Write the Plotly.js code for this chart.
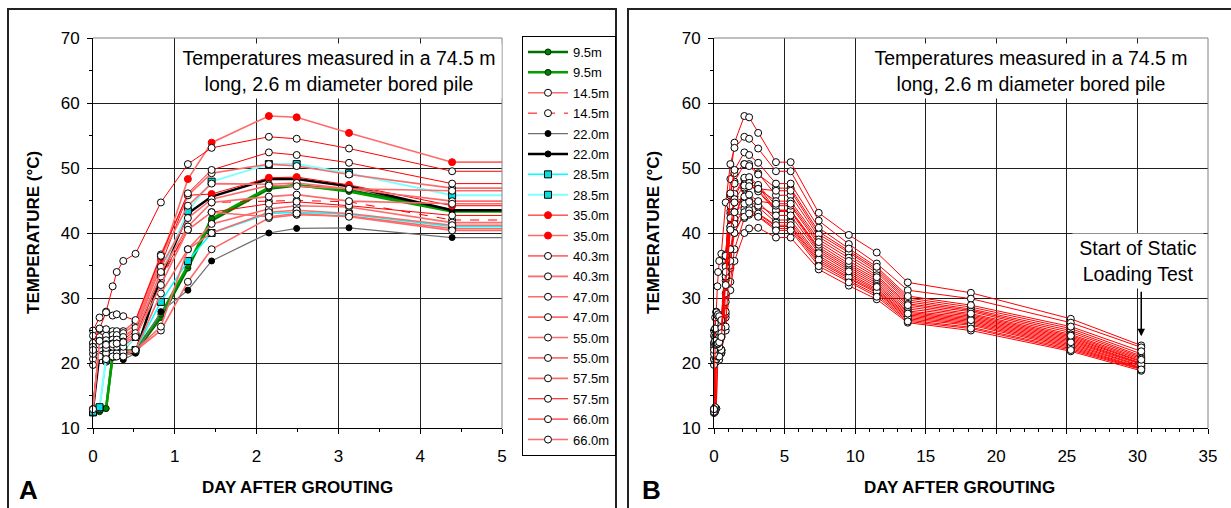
<!DOCTYPE html>
<html>
<head>
<meta charset="utf-8">
<script src="https://cdn.plot.ly/plotly-3.0.1.min.js"></script>
<style>html,body{margin:0;padding:0;background:#fff;}#chart{width:1231px;height:508px;}</style>
</head>
<body>
<div id="chart"></div>
<script>
// Time after grouting (days)
const days = [0, 0.08, 0.16, 0.24, 0.29, 0.37, 0.52, 0.83, 1.16, 1.45, 2.15, 2.49, 3.13, 4.39, 5.43, 7.42, 9.55, 11.53, 13.73, 18.2, 25.28, 30.27];

// Temperatures (deg C) for each gauge depth (two gauges per depth)
const t9_5a  = [12.3, 12.5, 13.0, 21.0, 21.5, 21.8, 21.7, 27.0, 34.6, 41.9, 46.8, 47.3, 46.6, 43.5, 43.5, 37.5, 34.7, 32.3, 28.0, 27.0, 23.6, 20.0];
const t9_5b  = [12.5, 12.7, 13.0, 21.2, 21.6, 21.9, 22.0, 27.5, 35.0, 42.2, 47.0, 47.4, 46.4, 43.3, 43.3, 37.2, 34.4, 32.0, 27.8, 26.8, 23.4, 19.9];
const t14_5a = [12.9, 22.5, 20.2, 21.0, 21.2, 21.4, 21.9, 25.0, 32.5, 37.5, 42.3, 42.8, 42.6, 40.7, 40.7, 35.3, 32.7, 30.5, 26.6, 25.5, 22.2, 19.1];
const t14_5b = [12.9, 22.0, 21.5, 21.5, 21.5, 21.7, 24.0, 32.7, 41.0, 44.7, 44.9, 45.0, 44.8, 42.0, 42.0, 36.5, 33.8, 31.4, 27.4, 26.4, 23.0, 19.6];
const t22_0a = [20.6, 21.0, 21.2, 21.3, 21.0, 20.5, 21.5, 27.9, 31.2, 35.7, 40.0, 40.7, 40.8, 39.3, 39.3, 34.4, 31.9, 29.8, 26.2, 25.0, 21.8, 18.8];
const t22_0b = [12.9, 21.5, 21.5, 21.2, 21.3, 21.4, 21.6, 33.3, 43.0, 45.6, 48.3, 48.3, 47.2, 43.5, 43.5, 37.8, 35.0, 32.6, 28.3, 27.2, 23.8, 20.2];
const t28_5a = [12.4, 13.0, 20.5, 21.0, 21.3, 21.5, 22.0, 29.4, 35.7, 40.0, 43.0, 43.2, 42.9, 41.0, 41.0, 35.6, 33.0, 30.8, 26.8, 25.8, 22.4, 19.2];
const t28_5b = [12.5, 13.2, 20.8, 21.5, 21.8, 22.0, 24.0, 33.8, 43.4, 47.9, 50.6, 50.6, 49.2, 45.8, 45.8, 39.4, 36.6, 33.9, 29.4, 28.1, 24.7, 20.9];
const t35_0a = [12.9, 22.8, 23.2, 23.3, 23.5, 23.6, 25.0, 35.0, 45.8, 46.0, 48.5, 48.6, 47.4, 44.2, 44.2, 38.2, 35.3, 32.9, 28.6, 27.4, 24.0, 20.3];
const t35_0b = [12.9, 23.0, 23.5, 23.6, 23.8, 24.0, 25.3, 35.8, 48.3, 53.9, 58.0, 57.8, 55.4, 50.9, 50.9, 43.1, 39.7, 37.0, 32.4, 30.8, 26.8, 22.7];
const t40_3a = [25.0, 27.0, 27.9, 31.8, 34.0, 35.7, 36.8, 44.7, 50.6, 53.1, 54.8, 54.5, 53.0, 49.5, 49.5, 41.9, 38.3, 35.3, 31.2, 29.9, 26.2, 22.4];
const t40_3b = [20.6, 21.5, 21.5, 21.5, 21.5, 21.7, 22.0, 30.7, 37.5, 41.4, 43.7, 44.2, 44.0, 41.6, 41.6, 36.2, 33.5, 31.2, 27.2, 26.2, 22.8, 19.5];
const t47_0a = [24.2, 25.2, 25.2, 24.9, 24.9, 24.9, 26.4, 36.7, 45.8, 49.2, 50.6, 50.3, 49.0, 46.9, 46.9, 40.2, 37.3, 34.5, 30.0, 28.6, 25.3, 21.4];
const t47_0b = [23.0, 24.0, 24.2, 24.3, 24.3, 24.6, 25.9, 36.4, 44.2, 47.6, 47.5, 47.7, 46.8, 46.5, 46.5, 39.8, 37.0, 34.2, 29.7, 28.3, 25.0, 21.1];
const t55_0a = [19.7, 21.0, 20.6, 21.0, 21.0, 21.0, 22.0, 25.6, 37.5, 40.0, 43.2, 43.5, 43.0, 41.2, 41.2, 35.9, 33.2, 31.0, 27.0, 26.0, 22.6, 19.3];
const t55_0b = [23.1, 25.3, 27.8, 27.3, 27.5, 27.2, 26.6, 36.5, 46.1, 49.7, 52.4, 52.0, 50.8, 47.6, 47.6, 40.8, 37.6, 34.8, 30.3, 28.9, 25.6, 21.8];
const t57_5a = [22.5, 23.4, 23.5, 23.6, 23.6, 24.0, 25.4, 34.8, 42.3, 45.2, 47.3, 47.2, 46.8, 44.9, 44.9, 39.0, 36.2, 33.5, 29.1, 27.9, 24.4, 20.7];
const t57_5b = [21.4, 22.2, 22.3, 22.5, 22.5, 22.5, 24.2, 33.3, 40.5, 43.2, 44.5, 44.8, 44.2, 42.7, 42.7, 36.9, 34.1, 31.7, 27.6, 26.6, 23.2, 19.8];
const t66_0a = [22.0, 22.8, 22.9, 23.0, 23.0, 23.3, 24.6, 34.0, 41.0, 44.7, 45.6, 45.9, 44.9, 44.5, 44.5, 38.6, 35.7, 33.2, 28.9, 27.6, 24.2, 20.5];
const t66_0b = [12.9, 23.4, 22.8, 22.9, 23.0, 23.2, 24.0, 32.0, 40.5, 43.2, 42.5, 43.0, 42.5, 40.4, 40.4, 34.9, 32.4, 30.2, 26.4, 25.3, 22.0, 19.0];

const depthLabels = ['9.5m','9.5m','14.5m','14.5m','22.0m','22.0m','28.5m','28.5m','35.0m','35.0m','40.3m','40.3m','47.0m','47.0m','55.0m','55.0m','57.5m','57.5m','66.0m','66.0m'];
const seriesValues = [t9_5a, t9_5b, t14_5a, t14_5b, t22_0a, t22_0b, t28_5a, t28_5b, t35_0a, t35_0b, t40_3a, t40_3b, t47_0a, t47_0b, t55_0a, t55_0b, t57_5a, t57_5b, t66_0a, t66_0b];

const FONT = 'Arial, "Liberation Sans", sans-serif';
const openM = {symbol:'circle', size:7, color:'#ffffff', line:{color:'#000000', width:1}};
const PINK = {color:'#ff6a6a', width:1.6};
const styles = [
  {line:{color:'#007000', width:2.5}, marker:{symbol:'circle', size:6, color:'#008000', line:{color:'#003000', width:1}}},
  {line:{color:'#00a000', width:2.5}, marker:{symbol:'circle', size:6, color:'#008000', line:{color:'#003000', width:1}}},
  {line:PINK, marker:openM},
  {line:{color:'#ff0000', width:1, dash:'dash'}, marker:openM},
  {line:{color:'#707070', width:1.2}, marker:{symbol:'circle', size:6, color:'#000000', line:{color:'#000000', width:1}}},
  {line:{color:'#000000', width:2.5}, marker:{symbol:'circle', size:6, color:'#000000', line:{color:'#000000', width:1}}},
  {line:{color:'#00ffff', width:1.5}, marker:{symbol:'square', size:7, color:'#00e0e0', line:{color:'#000000', width:1}}},
  {line:{color:'#80ffff', width:2}, marker:{symbol:'square', size:7, color:'#00e0e0', line:{color:'#000000', width:1}}},
  {line:{color:'#ff0000', width:1}, marker:{symbol:'circle', size:7, color:'#ff0000', line:{color:'#ff0000', width:1}}},
  {line:PINK, marker:{symbol:'circle', size:7, color:'#ff0000', line:{color:'#ff0000', width:1}}},
  {line:{color:'#ff0000', width:1}, marker:openM},
  {line:PINK, marker:openM},
  {line:PINK, marker:openM},
  {line:PINK, marker:openM},
  {line:PINK, marker:openM},
  {line:{color:'#ff0000', width:1}, marker:openM},
  {line:PINK, marker:openM},
  {line:{color:'#ff0000', width:1}, marker:openM},
  {line:PINK, marker:openM},
  {line:PINK, marker:openM}
];

const W = 1231, H = 508;
const px = v => v / W;
const py = v => 1 - v / H;

const traces = [];
// Panel A: extension segments beyond the last reading shown (clipped by the axis)
seriesValues.forEach((vals, i) => {
  traces.push({x: days.slice(13, 15), y: vals.slice(13, 15), xaxis:'x', yaxis:'y', mode:'lines',
    line: styles[i].line, showlegend:false, hoverinfo:'skip'});
});
// Panel A: main series with legend
seriesValues.forEach((vals, i) => {
  traces.push({x: days.slice(0, 14), y: vals.slice(0, 14), xaxis:'x', yaxis:'y', mode:'lines+markers',
    name: depthLabels[i], legendgroup:'g'+i, line: styles[i].line, marker: styles[i].marker, cliponaxis:false});
});
// Panel B: all readings
seriesValues.forEach((vals, i) => {
  traces.push({x: days, y: vals, xaxis:'x2', yaxis:'y2', mode:'lines+markers', showlegend:false,
    line:{color:'#ff0000', width:1}, marker:openM, cliponaxis:false});
});

const tickFont = {family:FONT, size:17, color:'#000'};
const yAxisBase = {range:[10,70], dtick:10, tick0:10, ticks:'outside', ticklen:5, tickcolor:'#000', tickwidth:1,
  showline:true, linecolor:'#000', linewidth:1, showgrid:true, gridcolor:'#202020', gridwidth:1, zeroline:false,
  tickfont:tickFont, ticklabelstandoff:4,
  minor:{dtick:5, ticks:'outside', ticklen:3, tickcolor:'#000', showgrid:false}};

const layout = {
  width:W, height:H, margin:{l:0, r:0, t:0, b:0}, paper_bgcolor:'#fff', plot_bgcolor:'#fff',
  font:{family:FONT, color:'#000'},
  showlegend:true,
  xaxis:{domain:[px(93), px(502)], range:[0,5], dtick:1, tick0:0, ticks:'outside', ticklen:5, tickcolor:'#000',
    showline:true, linecolor:'#000', linewidth:1, showgrid:true, gridcolor:'#202020', zeroline:false, tickfont:tickFont,
    ticklabelstandoff:8, minor:{dtick:0.5, ticks:'outside', ticklen:3, tickcolor:'#000', showgrid:false}, anchor:'y'},
  yaxis:Object.assign({}, yAxisBase, {domain:[py(428), py(38)], anchor:'x'}),
  xaxis2:{domain:[px(714), px(1208)], range:[0,35], dtick:5, tick0:0, ticks:'outside', ticklen:5, tickcolor:'#000',
    showline:true, linecolor:'#000', linewidth:1, showgrid:true, gridcolor:'#202020', zeroline:false, tickfont:tickFont,
    ticklabelstandoff:8, minor:{dtick:1, ticks:'outside', ticklen:3, tickcolor:'#000', showgrid:false}, anchor:'y2'},
  yaxis2:Object.assign({}, yAxisBase, {domain:[py(428), py(38)], anchor:'x2'}),
  legend:{x:px(522), y:py(36), xanchor:'left', yanchor:'top', bgcolor:'#fff', bordercolor:'#000', borderwidth:1,
    font:{family:FONT, size:13, color:'#000'}, tracegroupgap:0.5, itemwidth:40},
  shapes:[
    // panel frames
    {type:'rect', xref:'paper', yref:'paper', x0:px(8), x1:px(616), y0:py(540), y1:py(9), line:{color:'#222', width:2}, layer:'below'},
    {type:'rect', xref:'paper', yref:'paper', x0:px(628), x1:px(1260), y0:py(540), y1:py(9), line:{color:'#222', width:2}, layer:'below'},
    // plot-area borders (top / right in grey)
    {type:'line', xref:'paper', yref:'paper', x0:px(93), x1:px(502), y0:py(38), y1:py(38), line:{color:'#808080', width:1}},
    {type:'line', xref:'paper', yref:'paper', x0:px(502), x1:px(502), y0:py(38), y1:py(428), line:{color:'#808080', width:1}},
    {type:'line', xref:'paper', yref:'paper', x0:px(714), x1:px(1208), y0:py(38), y1:py(38), line:{color:'#808080', width:1}},
    {type:'line', xref:'paper', yref:'paper', x0:px(1208), x1:px(1208), y0:py(38), y1:py(428), line:{color:'#808080', width:1}}
  ],
  annotations:[
    {xref:'paper', yref:'paper', x:px(339), y:py(71), xanchor:'center', yanchor:'middle', showarrow:false,
      text:'Temperatures measured in a 74.5 m<br>long, 2.6 m diameter bored pile', font:{family:FONT, size:19.5, color:'#000'},
      bgcolor:'#fff', width:322, height:52, align:'center'},
    {xref:'paper', yref:'paper', x:px(1031), y:py(71), xanchor:'center', yanchor:'middle', showarrow:false,
      text:'Temperatures measured in a 74.5 m<br>long, 2.6 m diameter bored pile', font:{family:FONT, size:19.5, color:'#000'},
      bgcolor:'#fff', width:332, height:52, align:'center'},
    {xref:'paper', yref:'paper', x:px(1138), y:py(261), xanchor:'center', yanchor:'middle', showarrow:false,
      text:'Start of Static<br>Loading Test', font:{family:FONT, size:19.5, color:'#000'},
      bgcolor:'#fff', width:128, height:52, align:'center'},
    {xref:'x2', yref:'y2', x:30.27, y:24.1, axref:'pixel', ayref:'pixel', ax:0, ay:-46, text:'', showarrow:true,
      arrowhead:2, arrowsize:1, arrowwidth:1.5, arrowcolor:'#000'},
    {xref:'paper', yref:'paper', x:px(33), y:py(233), xanchor:'center', yanchor:'middle', showarrow:false, textangle:-90,
      text:'<b>TEMPERATURE (°C)</b>', font:{family:FONT, size:17, color:'#000'}},
    {xref:'paper', yref:'paper', x:px(653), y:py(233), xanchor:'center', yanchor:'middle', showarrow:false, textangle:-90,
      text:'<b>TEMPERATURE (°C)</b>', font:{family:FONT, size:17, color:'#000'}},
    {xref:'paper', yref:'paper', x:px(297), y:py(487), xanchor:'center', yanchor:'middle', showarrow:false,
      text:'<b>DAY AFTER GROUTING</b>', font:{family:FONT, size:17, color:'#000'}},
    {xref:'paper', yref:'paper', x:px(959), y:py(487), xanchor:'center', yanchor:'middle', showarrow:false,
      text:'<b>DAY AFTER GROUTING</b>', font:{family:FONT, size:17, color:'#000'}},
    {xref:'paper', yref:'paper', x:px(28), y:py(507), xanchor:'center', yanchor:'bottom', showarrow:false,
      text:'<b>A</b>', font:{family:FONT, size:26, color:'#000'}},
    {xref:'paper', yref:'paper', x:px(651), y:py(507), xanchor:'center', yanchor:'bottom', showarrow:false,
      text:'<b>B</b>', font:{family:FONT, size:26, color:'#000'}}
  ]
};

Plotly.newPlot('chart', traces, layout, {staticPlot:true, displayModeBar:false});
</script>
</body>
</html>
